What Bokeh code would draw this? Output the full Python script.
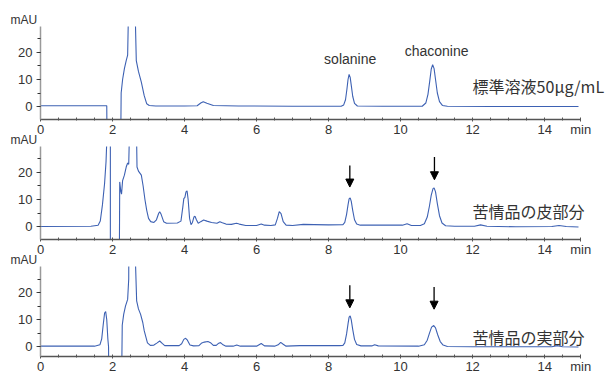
from bokeh.plotting import figure
from bokeh.layouts import column
from bokeh.models import (Range1d, SingleIntervalTicker, FixedTicker, Label, Arrow,
                          NormalHead, Title)
from bokeh.embed import file_html
from bokeh.resources import INLINE

# ---------------- data ----------------
# Standard solution 50 ug/mL
std_t = [0.00, 1.50, 1.84, 1.86, 2.21, 2.24, 2.28, 2.33, 2.38, 2.42, 2.45, 2.50, 2.58,
         2.62, 2.66, 2.72, 2.80, 2.88, 2.95, 3.02, 3.20, 4.00, 4.35, 4.45, 4.52, 4.62,
         4.80, 5.50, 7.00, 8.35, 8.42, 8.47, 8.51, 8.54, 8.57, 8.60, 8.63, 8.67, 8.72,
         8.80, 9.50, 10.60, 10.70, 10.76, 10.81, 10.85, 10.89, 10.93, 10.97, 11.02,
         11.08, 11.16, 11.30, 12.50, 14.94]
std_v = [0.3, 0.3, 0.3, -40.0, -40.0, 5.0, 10.0, 14.0, 17.0, 19.0, 40.0, 150.0, 150.0,
         40.0, 17.0, 13.0, 9.0, 4.0, 1.0, 0.4, 0.2, 0.2, 0.3, 1.3, 1.8, 1.2,
         0.4, 0.2, 0.1, 0.1, 0.6, 2.5, 6.5, 10.0, 11.9, 10.8, 7.8, 3.8, 1.2,
         0.2, 0.1, 0.1, 1.3, 4.5, 9.5, 13.8, 15.5, 14.0, 10.0, 5.0,
         1.8, 0.4, 0.1, 0.0, 0.0]

# Peel part of the complaint sample
peel_t = [0.00, 1.40, 1.60, 1.66, 1.72, 1.78, 1.82, 1.85, 1.88, 1.94, 1.94, 2.18, 2.20,
          2.23, 2.25, 2.28, 2.33, 2.38, 2.42, 2.45, 2.48, 2.52, 2.62, 2.66, 2.68, 2.72,
          2.80, 2.85, 2.90, 2.95, 3.00, 3.06, 3.15, 3.22, 3.28, 3.31, 3.35, 3.42, 3.50,
          3.80, 3.90, 3.95, 3.98, 4.01, 4.04, 4.07, 4.10, 4.14, 4.18, 4.22, 4.26, 4.29,
          4.33, 4.38, 4.45, 4.53, 4.62, 4.75, 4.90, 4.98, 5.05, 5.15, 5.30, 5.44, 5.52,
          5.70, 6.00, 6.13, 6.22, 6.40, 6.52, 6.58, 6.63, 6.68, 6.74, 6.82, 7.00, 7.30,
          7.60, 8.00, 8.40, 8.45, 8.50, 8.54, 8.57, 8.60, 8.63, 8.67, 8.72, 8.78, 8.88,
          9.50, 10.05, 10.18, 10.30, 10.55, 10.66, 10.74, 10.80, 10.85, 10.90, 10.93,
          10.97, 11.02, 11.08, 11.15, 11.25, 11.50, 12.05, 12.22, 12.40, 13.20, 14.20,
          14.40, 14.60, 14.94]
peel_v = [0.0, 0.1, 0.5, 2.0, 8.0, 16.0, 24.0, 35.0, 150.0, 150.0, -40.0, -40.0, 16.5,
          13.0, 12.0, 17.0, 19.0, 22.0, 23.5, 23.0, 40.0, 150.0, 150.0, 40.0, 22.0, 20.5,
          19.0, 15.0, 10.0, 6.0, 3.0, 1.8, 1.5, 2.5, 4.8, 5.5, 4.5, 1.8, 1.2,
          1.3, 2.0, 7.0, 10.3, 10.8, 12.8, 13.2, 10.0, 3.0, 0.7, 1.5, 3.5, 3.8,
          2.5, 1.2, 1.8, 2.4, 2.0, 1.5, 1.2, 1.8, 1.4, 0.9, 0.8, 1.2, 0.9,
          0.4, 0.4, 0.9, 0.5, 0.4, 0.6, 3.0, 5.5, 4.8, 1.8, 0.5, 0.4, 0.8,
          0.7, 0.6, 0.7, 1.5, 4.5, 8.0, 10.2, 10.6, 9.3, 6.0, 2.5, 0.9, 0.5,
          0.5, 0.5, 1.0, 0.4, 0.4, 1.0, 3.5, 7.5, 11.5, 14.0, 14.3,
          12.8, 8.5, 4.0, 1.3, 0.3, 0.1, 0.1, 0.6, 0.1, -0.1, 0.0,
          0.4, 0.0, -0.2]

# Flesh part of the complaint sample
flesh_t = [0.00, 1.50, 1.65, 1.70, 1.74, 1.78, 1.81, 1.84, 1.87, 1.89, 1.91, 2.23, 2.27,
           2.31, 2.36, 2.42, 2.45, 2.48, 2.60, 2.64, 2.67, 2.72, 2.78, 2.84, 2.88, 2.92,
           2.97, 3.05, 3.15, 3.24, 3.31, 3.38, 3.45, 3.85, 3.92, 3.98, 4.03, 4.08, 4.15,
           4.25, 4.40, 4.48, 4.55, 4.65, 4.72, 4.80, 4.88, 4.95, 5.00, 5.07, 5.15, 5.35,
           5.45, 5.55, 6.00, 6.13, 6.22, 6.50, 6.60, 6.67, 6.74, 6.82, 7.20, 8.30, 8.40,
           8.45, 8.50, 8.54, 8.57, 8.60, 8.63, 8.67, 8.72, 8.78, 8.90, 9.20, 9.28, 9.38,
           10.50, 10.66, 10.74, 10.80, 10.86, 10.92, 10.97, 11.03, 11.10, 11.18, 11.30,
           12.00, 14.20, 14.35, 14.50, 14.94]
flesh_v = [0.3, 0.3, 0.8, 3.0, 8.0, 12.5, 13.0, 10.0, 3.0, 0.0, -40.0, -40.0, 8.0,
           12.0, 15.0, 17.5, 25.0, 150.0, 150.0, 30.0, 17.0, 14.0, 12.0, 9.0, 6.0, 4.0,
           1.5, 0.6, 0.7, 1.5, 2.2, 1.3, 0.5, 0.5, 1.2, 2.8, 3.2, 2.5, 0.7,
           0.4, 0.5, 1.5, 1.8, 2.0, 1.6, 0.6, 0.6, 1.4, 1.6, 0.8, 0.3, 0.3,
           0.7, 0.3, 0.3, 1.3, 0.4, 0.3, 0.8, 1.7, 1.0, 0.3, 0.5, 0.5, 0.6,
           1.5, 4.8, 8.5, 11.0, 11.4, 10.0, 6.5, 2.8, 0.9, 0.4, 0.4, 0.8, 0.4,
           0.3, 0.8, 2.5, 5.0, 7.3, 7.9, 7.0, 4.5, 2.0, 0.7, 0.2,
           0.1, 0.1, 0.5, 0.1, 0.0]

# peak names (standard) and annotation positions
peak_names = ["solanine", "chaconine"]
peak_name_t = [8.60, 11.00]
peak_name_y = [17.4, 20.5]

peel_arrow_t = [8.59, 10.94]
peel_arrow_top = [22.6, 25.7]
peel_arrow_tip = [14.6, 17.3]
flesh_arrow_t = [8.59, 10.93]
flesh_arrow_top = [22.7, 22.1]
flesh_arrow_tip = [14.4, 13.9]

sample_names = ["標準溶液50μg/mL", "苦情品の皮部分", "苦情品の実部分"]
sample_name_t = 12.0
sample_name_y = [7.6, 5.7, 3.8]

# axis ticks / labels
x_major_ticks = [0, 2, 4, 6, 8, 10, 12, 14, 15]
x_tick_labels = {15: "min"}
x_minor_ticks = [0.5, 1, 1.5, 2.5, 3, 3.5, 4.5, 5, 5.5, 6.5, 7, 7.5, 8.5, 9, 9.5,
                 10.5, 11, 11.5, 12.5, 13, 13.5, 14.5]
X_AXIS_END = 15.0
X_MAX = 15.69
Y_MAX = 29.6
Y_MINS = [-4.8, -4.8, -3.5]
Y_UNIT = "mAU"

LINE_COLOR = "#3d61b3"
TEXT_COLOR = "#333333"
FONT = "Liberation Sans"
CJK = "Noto Sans CJK JP"


def make_panel(t, v, y_min, height, top, bottom, name_y, name, overlap):
    p = figure(width=605, height=height, x_range=Range1d(0, X_MAX),
               y_range=Range1d(y_min, Y_MAX), output_backend="svg",
               toolbar_location=None, min_border_left=40, min_border_right=0,
               min_border_top=top, min_border_bottom=bottom,
               margin=(-overlap, 0, 0, 0))
    p.outline_line_color = None
    p.background_fill_color = "white"
    p.border_fill_alpha = 0
    p.grid.visible = False

    xa = p.xaxis[0]
    xa.ticker = FixedTicker(ticks=x_major_ticks, minor_ticks=x_minor_ticks)
    xa.major_label_overrides = x_tick_labels
    xa.bounds = (0, X_AXIS_END)
    xa.axis_line_color = "#555555"
    xa.axis_line_width = 1.5
    xa.major_tick_line_color = "#555555"
    xa.minor_tick_line_color = "#555555"
    xa.major_tick_in = 2
    xa.major_tick_out = 2
    xa.minor_tick_in = 2
    xa.minor_tick_out = 1
    xa.major_label_standoff = 0
    xa.major_label_text_font = FONT
    xa.major_label_text_font_size = "13px"
    xa.major_label_text_color = TEXT_COLOR

    ya = p.yaxis[0]
    ya.ticker = SingleIntervalTicker(interval=10, num_minor_ticks=2)
    ya.axis_line_color = "#9a9a9a"
    ya.axis_line_width = 1.5
    ya.major_tick_line_color = "#555555"
    ya.minor_tick_line_color = "#333333"
    ya.major_tick_in = 0
    ya.major_tick_out = 4
    ya.minor_tick_in = 0
    ya.minor_tick_out = 3
    ya.major_label_standoff = 4
    ya.major_label_text_font = FONT
    ya.major_label_text_font_size = "13px"
    ya.major_label_text_color = TEXT_COLOR

    p.add_layout(Title(text=Y_UNIT, align="left", offset=-30, standoff=0,
                       text_font=FONT, text_font_size="12px",
                       text_font_style="normal", text_color=TEXT_COLOR), "above")

    p.line(t, v, color=LINE_COLOR, line_width=1.1)

    p.add_layout(Label(x=sample_name_t, y=name_y, text=name, text_align="left",
                       text_baseline="middle", text_font=CJK,
                       text_font_size="16px", text_color=TEXT_COLOR))
    return p


def add_arrows(p, ts, tops, tips):
    for t, a, b in zip(ts, tops, tips):
        p.add_layout(Arrow(x_start=t, y_start=a, x_end=t, y_end=b,
                           line_color="black", line_width=1.3,
                           end=NormalHead(size=8, fill_color="black",
                                          line_color="black")))


p1 = make_panel(std_t, std_v, Y_MINS[0], 140, 26, 21, sample_name_y[0],
                sample_names[0], 0)
for nm, t, y in zip(peak_names, peak_name_t, peak_name_y):
    p1.add_layout(Label(x=t, y=y, text=nm, text_align="center",
                        text_baseline="alphabetic", text_font=FONT,
                        text_font_size="14px", text_color=TEXT_COLOR))

p2 = make_panel(peel_t, peel_v, Y_MINS[1], 130, 16, 21, sample_name_y[1],
                sample_names[1], 10)
add_arrows(p2, peel_arrow_t, peel_arrow_top, peel_arrow_tip)

p3 = make_panel(flesh_t, flesh_v, Y_MINS[2], 126, 16, 17, sample_name_y[2],
                sample_names[2], 10)
add_arrows(p3, flesh_arrow_t, flesh_arrow_top, flesh_arrow_tip)

layout = column(p1, p2, p3, spacing=0)
open("out.html", "w").write(file_html(layout, INLINE))
